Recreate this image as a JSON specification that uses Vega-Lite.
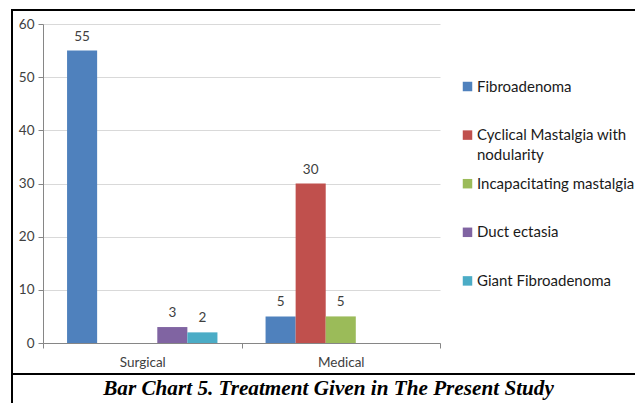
{
  "$schema": "https://vega.github.io/schema/vega-lite/v6.json",
  "width": 627,
  "height": 397,
  "autosize": {"type": "none"},
  "padding": {"left": 12, "top": 10, "right": -4, "bottom": -4},
  "background": "white",
  "config": {
    "view": {"stroke": "#000000", "strokeWidth": 2},
    "style": {"guide-label": {"lineHeight": 20}}
  },
  "layer": [
    {
      "data": {
        "values": [
          {"treatment": "Surgical", "condition": "Fibroadenoma", "patients": 55},
          {"treatment": "Surgical", "condition": "Duct ectasia", "patients": 3},
          {"treatment": "Surgical", "condition": "Giant Fibroadenoma", "patients": 2},
          {"treatment": "Medical", "condition": "Fibroadenoma", "patients": 5},
          {"treatment": "Medical", "condition": "Cyclical Mastalgia with nodularity", "patients": 30},
          {"treatment": "Medical", "condition": "Incapacitating mastalgia", "patients": 5}
        ]
      },
      "encoding": {
        "x": {
          "field": "treatment",
          "type": "nominal",
          "sort": ["Surgical", "Medical"],
          "scale": {"range": [31, 428], "paddingInner": 0, "paddingOuter": 0},
          "axis": {
            "title": null,
            "orient": "bottom",
            "offset": -64,
            "labelAngle": 0,
            "domainColor": "#868686",
            "tickColor": "#868686",
            "tickSize": 5,
            "tickBand": "extent",
            "labelPadding": 7,
            "labelFont": "Lato",
            "labelFontSize": 13.5,
            "labelColor": "#404040",
            "grid": false
          }
        },
        "xOffset": {
          "field": "condition",
          "type": "nominal",
          "scale": {
            "domain": ["Fibroadenoma", "Cyclical Mastalgia with nodularity", "Incapacitating mastalgia", "Duct ectasia", "Giant Fibroadenoma"],
            "paddingInner": 0,
            "paddingOuter": 0.8
          }
        },
        "y": {
          "field": "patients",
          "type": "quantitative",
          "scale": {"domain": [0, 60], "range": [333, 14], "nice": false, "zero": true},
          "axis": {
            "title": null,
            "orient": "left",
            "offset": -31,
            "values": [0, 10, 20, 30, 40, 50, 60],
            "domainColor": "#868686",
            "tickColor": "#868686",
            "tickSize": 5,
            "labelPadding": 4,
            "labelFont": "Lato",
            "labelFontSize": 13.5,
            "labelColor": "#404040",
            "grid": true,
            "gridColor": "#d9d9d9",
            "gridWidth": 1
          }
        }
      },
      "layer": [
        {
          "mark": {"type": "bar"},
          "encoding": {
            "color": {
              "field": "condition",
              "type": "nominal",
              "scale": {
                "domain": ["Fibroadenoma", "Cyclical Mastalgia with nodularity", "Incapacitating mastalgia", "Duct ectasia", "Giant Fibroadenoma"],
                "range": ["#4F81BD", "#C0504D", "#9BBB59", "#8064A2", "#4BACC6"]
              },
              "legend": {
                "title": null,
                "orient": "none",
                "legendX": 448,
                "legendY": 69,
                "direction": "vertical",
                "symbolType": "square",
                "symbolSize": 90,
                "symbolStrokeWidth": 0,
                "labelFont": "Lato",
                "labelFontSize": 15,
                "labelColor": "#1a1a1a",
                "labelOffset": 2,
                "labelLimit": 300,
                "labelBaseline": "alphabetic",
                "rowPadding": 12.6,
                "labelExpr": "datum.label == 'Cyclical Mastalgia with nodularity' ? ['Cyclical Mastalgia with', 'nodularity'] : [datum.label, ' ']",
                "encode": {"labels": {"update": {"dy": {"value": 5}, "lineHeight": {"value": 20}}}}
              }
            }
          }
        },
        {
          "mark": {"type": "text", "baseline": "bottom", "dy": -7, "font": "Lato", "fontSize": 13.5, "color": "#404040"},
          "encoding": {"text": {"field": "patients", "type": "quantitative"}}
        }
      ]
    },
    {
      "data": {"values": [{"line": -5.83}]},
      "mark": {"type": "rule", "color": "#000000", "strokeWidth": 2.2},
      "encoding": {"y": {"field": "line", "type": "quantitative"}}
    },
    {
      "data": {"values": [{"pos": -8.7, "caption": "Bar Chart 5. Treatment Given in The Present Study"}]},
      "mark": {"type": "text", "font": "Liberation Serif", "fontSize": 21.2, "fontWeight": "bold", "fontStyle": "italic", "color": "#000000", "baseline": "middle", "dx": 3},
      "encoding": {
        "y": {"field": "pos", "type": "quantitative"},
        "text": {"field": "caption"}
      }
    }
  ]
}
